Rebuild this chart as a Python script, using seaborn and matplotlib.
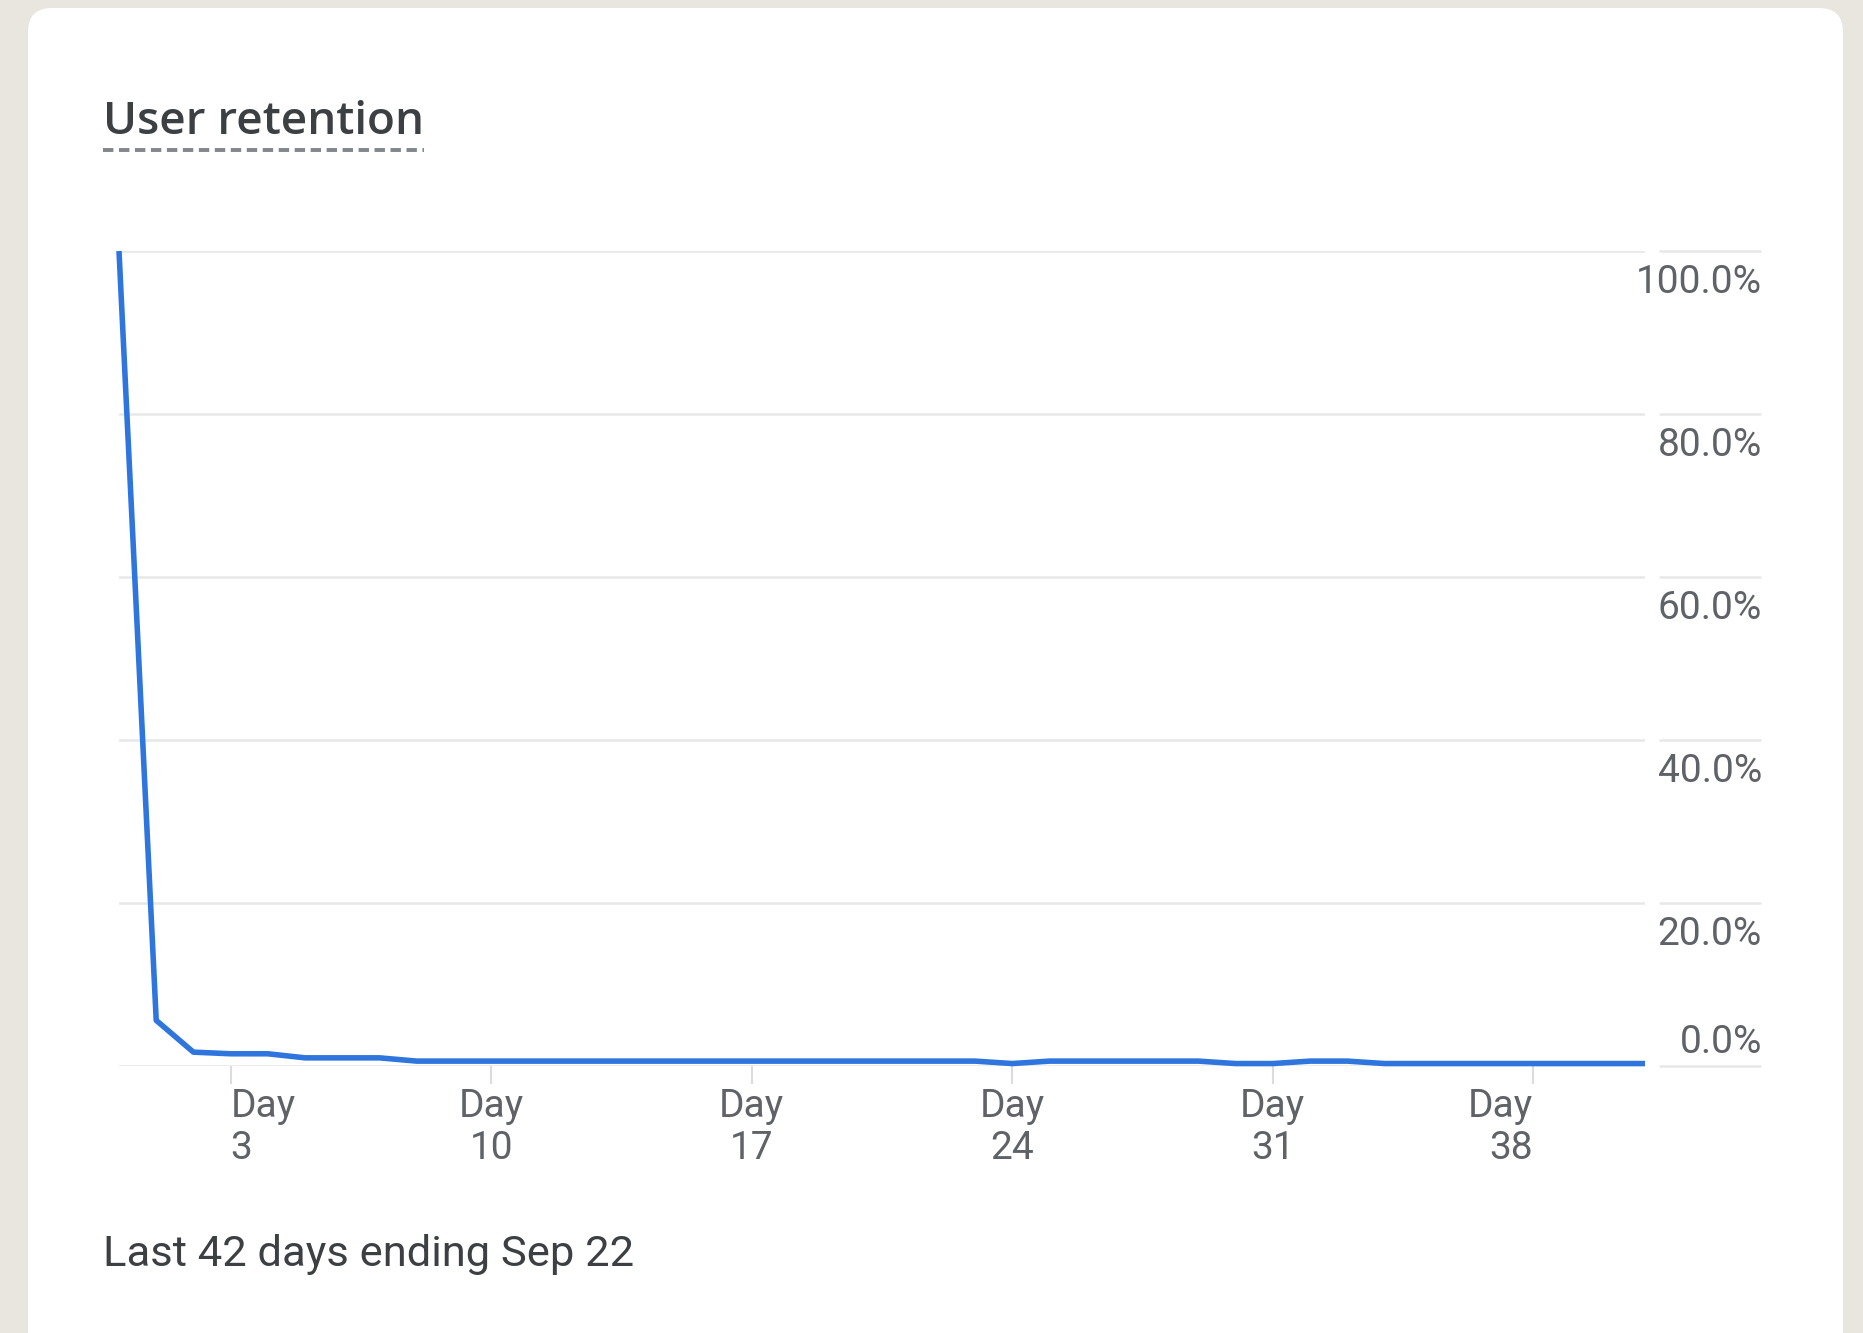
import matplotlib
matplotlib.use("Agg")
import matplotlib.pyplot as plt
import matplotlib.transforms as mtransforms
from matplotlib.patches import FancyBboxPatch
import seaborn as sns

# Retention by day since first visit (percent of users)
days = list(range(42))
retention = [
    100.0, 5.6, 1.7, 1.5, 1.5, 1.0, 1.0, 1.0, 0.6, 0.6,
    0.6, 0.6, 0.6, 0.6, 0.6, 0.6, 0.6, 0.6, 0.6, 0.6,
    0.6, 0.6, 0.6, 0.6, 0.3, 0.6, 0.6, 0.6, 0.6, 0.6,
    0.3, 0.3, 0.6, 0.6, 0.3, 0.3, 0.3, 0.3, 0.3, 0.3,
    0.3, 0.3,
]
x_ticks = [3, 10, 17, 24, 31, 38]
x_tick_labels = ["Day\n3", "Day\n10", "Day\n17", "Day\n24", "Day\n31", "Day\n38"]
y_ticks = [0, 20, 40, 60, 80, 100]
y_tick_labels = ["0.0%", "20.0%", "40.0%", "60.0%", "80.0%", "100.0%"]

title_text = "User retention"
footer_text = "Last 42 days ending Sep 22"

sns.set_theme(style="white")
plt.rcParams["font.family"] = ["Roboto", "DejaVu Sans"]
plt.rcParams["lines.scale_dashes"] = False

W, H, DPI = 1863, 1333, 100
page_bg = "#e9e5df"
line_blue = "#2f75de"
grid_grey = "#e8e8e8"
label_grey = "#5f6368"
dark_text = "#3c4043"

fig = plt.figure(figsize=(W / DPI, H / DPI), dpi=DPI, facecolor=page_bg)

# White card with rounded corners, kept behind the plot area
card = FancyBboxPatch(
    (0.28, -0.25), 18.15, 13.50,
    boxstyle="round,pad=0,rounding_size=0.24",
    transform=fig.dpi_scale_trans, facecolor="white", edgecolor="none", zorder=-5,
)
fig.patches.append(card)

# Plot area (pixel layout converted to figure fractions)
left, right, top, bottom = 119, 1645, 251, 1066
ax = fig.add_axes([left / W, 1 - bottom / H, (right - left) / W, (bottom - top) / H])
ax.set_zorder(2)
ax.set_facecolor("none")
ax.patch.set_alpha(0)

sns.lineplot(x=days, y=retention, ax=ax, color=line_blue, linewidth=4.0, zorder=3)
for ln in ax.lines:
    ln.set_clip_on(False)
    ln.set_solid_joinstyle("round")
    ln.set_solid_capstyle("butt")

ax.set_xlim(0, 41)
ax.set_ylim(0, 100)
for s in ax.spines.values():
    s.set_visible(False)

ax.set_yticks(y_ticks)
ax.grid(axis="y", color=grid_grey, linewidth=1.8)
ax.grid(axis="x", visible=False)
ax.set_axisbelow(True)
ax.tick_params(axis="y", length=0, labelleft=False, labelright=False)

ax.set_xticks(x_ticks)
ax.set_xticklabels(x_tick_labels, fontsize=28, color=label_grey, linespacing=1.15)
ax.tick_params(axis="x", direction="out", length=13, width=1.5, color="#dcdcdc",
               pad=3, bottom=True)
xl = ax.get_xticklabels()
xl[0].set_ha("left")
xl[0].set_multialignment("left")
xl[-1].set_ha("right")
xl[-1].set_multialignment("right")
ax.set_xlabel("")
ax.set_ylabel("")

# Value labels on the right, each with its own short rule
blend = mtransforms.blended_transform_factory(fig.transFigure, ax.transData)
for val, lab in zip(y_ticks, y_tick_labels):
    ax.plot([1660 / W, 1760 / W], [val, val], transform=blend, color=grid_grey,
            linewidth=1.8, clip_on=False, zorder=1)
    if val == 0:
        off = mtransforms.ScaledTranslation(0, 13 / DPI, fig.dpi_scale_trans)
    else:
        off = mtransforms.ScaledTranslation(0, -42 / DPI, fig.dpi_scale_trans)
    ax.text(1762 / W, val, lab, transform=blend + off, ha="right", va="baseline",
            fontsize=28, color=label_grey, clip_on=False)

# Title with dotted underline
title = fig.text(103 / W, 1 - 134 / H, title_text, fontsize=33, color=dark_text,
                 family=["Open Sans", "DejaVu Sans"], weight="semibold",
                 va="baseline", ha="left")
fig.canvas.draw()
bb = title.get_window_extent()
fig.add_artist(plt.Line2D([bb.x0 / W, bb.x1 / W], [1 - 150 / H, 1 - 150 / H],
                          transform=fig.transFigure, color="#80868b", linewidth=2.8,
                          dashes=(7.5, 4.0)))

fig.text(103 / W, 1 - 1266 / H, footer_text, fontsize=31.3, color=dark_text,
         va="baseline", ha="left")

fig.savefig("out.png", dpi=DPI, facecolor=fig.get_facecolor())
